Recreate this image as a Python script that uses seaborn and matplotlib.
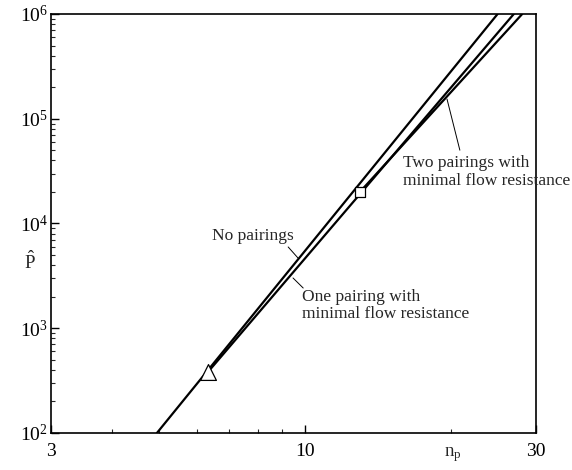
import matplotlib
matplotlib.use("Agg")
import matplotlib.pyplot as plt
import seaborn as sns
import pandas as pd
from matplotlib.ticker import LogLocator, FixedLocator, NullFormatter, FixedFormatter

# ---- data ----
no_pairings_x = [4.96, 25.0]
no_pairings_y = [1.0e2, 1.0e6]
one_pairing_x = [6.32, 27.0]
one_pairing_y = [382.0, 1.0e6]
two_pairings_x = [13.0, 28.1]
two_pairings_y = [2.0e4, 1.0e6]

start_one_x = [6.32]
start_one_y = [382.0]
start_two_x = [13.0]
start_two_y = [2.0e4]

x_major = [3, 10, 30]
x_major_labels = ["3", "10", "30"]

sns.set_theme(style="ticks")
plt.rcParams["font.family"] = ["Liberation Serif", "DejaVu Serif"]
plt.rcParams["mathtext.fontset"] = "custom"
plt.rcParams["mathtext.rm"] = "Liberation Serif"
plt.rcParams["mathtext.it"] = "Liberation Serif:italic"
plt.rcParams["mathtext.bf"] = "Liberation Serif:bold"

fig = plt.figure(figsize=(5.72, 4.70), dpi=100)
ax = fig.add_axes([51 / 572, 37 / 470, 485 / 572, 419 / 470])

df = pd.concat([
    pd.DataFrame({"n": no_pairings_x, "P": no_pairings_y, "s": "none"}),
    pd.DataFrame({"n": one_pairing_x, "P": one_pairing_y, "s": "one"}),
    pd.DataFrame({"n": two_pairings_x, "P": two_pairings_y, "s": "two"}),
])
sns.lineplot(data=df, x="n", y="P", units="s", estimator=None, color="black",
             linewidth=1.6, ax=ax, legend=False, sort=False)

sns.scatterplot(x=start_one_x, y=start_one_y, marker="^", s=130, facecolor="white",
                edgecolor="black", linewidth=0.9, ax=ax, zorder=5)
sns.scatterplot(x=start_two_x, y=start_two_y, marker="s", s=55, facecolor="white",
                edgecolor="black", linewidth=0.9, ax=ax, zorder=5)

ax.set_xscale("log")
ax.set_yscale("log")
ax.set_xlim(3, 30)
ax.set_ylim(1e2, 1e6)

ax.xaxis.set_major_locator(FixedLocator(x_major))
ax.xaxis.set_major_formatter(FixedFormatter(x_major_labels))
ax.xaxis.set_minor_locator(LogLocator(base=10, subs=range(2, 10), numticks=20))
ax.xaxis.set_minor_formatter(NullFormatter())
ax.yaxis.set_major_locator(LogLocator(base=10, numticks=10))
ax.yaxis.set_minor_locator(LogLocator(base=10, subs=range(2, 10), numticks=20))
ax.yaxis.set_minor_formatter(NullFormatter())

ax.tick_params(axis="both", which="major", direction="in", length=6, width=1,
               labelsize=14, colors="black")
ax.tick_params(axis="x", which="major", pad=7)
ax.tick_params(axis="y", which="major", pad=2)
ax.tick_params(axis="both", which="minor", direction="in", length=3, width=0.8)
ax.tick_params(top=False, right=False)
for sp in ax.spines.values():
    sp.set_visible(True)
    sp.set_color("black")
    sp.set_linewidth(1.2)

ax.set_xlabel("")
ax.set_ylabel("")
fig.text(30 / 572, 1 - 262 / 470, r"$\hat{\mathrm{P}}$", fontsize=13.5, ha="center", va="center")
fig.text(453 / 572, 1 - 455 / 470, r"$\mathrm{n}_\mathrm{p}$", fontsize=13.5, ha="center", va="center")

ax.text(0.332, 0.470, "No pairings", transform=ax.transAxes, fontsize=12.5,
        ha="left", va="center")
ax.annotate("", xy=(0.509, 0.418), xytext=(0.489, 0.444), xycoords="axes fraction",
            textcoords="axes fraction", arrowprops=dict(arrowstyle="-", lw=0.7, color="black",
                                                        shrinkA=0, shrinkB=0))

ax.text(0.5175, 0.305, "One pairing with\nminimal flow resistance", transform=ax.transAxes,
        fontsize=12.5, ha="left", va="center", linespacing=1.1)
ax.annotate("", xy=(0.520, 0.346), xytext=(0.499, 0.370), xycoords="axes fraction",
            textcoords="axes fraction", arrowprops=dict(arrowstyle="-", lw=0.7, color="black",
                                                        shrinkA=0, shrinkB=0))

ax.text(0.726, 0.623, "Two pairings with\nminimal flow resistance", transform=ax.transAxes,
        fontsize=12.5, ha="left", va="center", linespacing=1.1)
ax.annotate("", xy=(0.843, 0.675), xytext=(0.8165, 0.797), xycoords="axes fraction",
            textcoords="axes fraction", arrowprops=dict(arrowstyle="-", lw=0.7, color="black",
                                                        shrinkA=0, shrinkB=0))

fig.savefig("out.png", dpi=100, facecolor="white")
